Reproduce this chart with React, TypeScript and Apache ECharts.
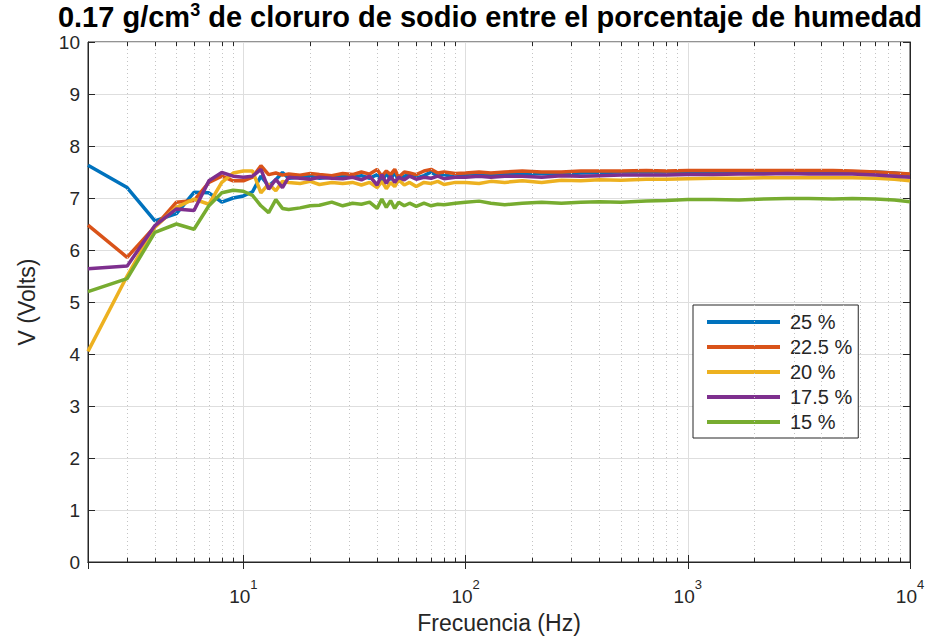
import React, { useEffect, useRef } from 'react';
import * as echarts from 'echarts';

const freqs = [2, 3, 4, 5, 6, 7, 8, 9, 10, 11, 12, 13, 14, 15, 16, 18, 20, 22, 25, 28, 31, 34, 37, 40, 42, 44, 46, 48, 50, 53, 56, 60, 65, 70, 75, 80, 90, 100, 115, 130, 150, 180, 220, 270, 330, 400, 500, 650, 800, 1000, 1300, 1700, 2200, 2800, 3500, 4500, 5500, 7000, 8500, 10000];

const v25 = [7.63, 7.2, 6.56, 6.7, 7.11, 7.1, 6.92, 7.0, 7.04, 7.12, 7.42, 7.23, 7.35, 7.49, 7.38, 7.4, 7.42, 7.38, 7.4, 7.42, 7.4, 7.43, 7.38, 7.45, 7.3, 7.48, 7.35, 7.5, 7.32, 7.42, 7.45, 7.38, 7.43, 7.5, 7.42, 7.45, 7.4, 7.45, 7.48, 7.44, 7.46, 7.45, 7.47, 7.45, 7.48, 7.49, 7.5, 7.5, 7.5, 7.5, 7.48, 7.5, 7.5, 7.52, 7.5, 7.52, 7.5, 7.5, 7.48, 7.45];
const v225 = [6.48, 5.86, 6.45, 6.92, 6.95, 7.3, 7.42, 7.33, 7.33, 7.4, 7.62, 7.45, 7.48, 7.44, 7.46, 7.44, 7.47, 7.45, 7.43, 7.47, 7.45, 7.5, 7.46, 7.55, 7.42, 7.52, 7.45, 7.55, 7.4, 7.5, 7.48, 7.45, 7.52, 7.55, 7.48, 7.5, 7.47, 7.48, 7.5, 7.48, 7.5, 7.52, 7.5, 7.5, 7.52, 7.52, 7.52, 7.53, 7.52, 7.53, 7.53, 7.53, 7.53, 7.53, 7.53, 7.53, 7.52, 7.5, 7.48, 7.46];
const v20 = [4.05, 5.5, 6.44, 6.82, 6.98, 6.88, 7.3, 7.48, 7.52, 7.52, 7.1, 7.27, 7.14, 7.32, 7.3, 7.28, 7.32, 7.26, 7.3, 7.28, 7.3, 7.25, 7.3, 7.2, 7.32, 7.18, 7.3, 7.22, 7.35, 7.25, 7.3, 7.22, 7.3, 7.28, 7.32, 7.26, 7.3, 7.3, 7.28, 7.32, 7.3, 7.33, 7.3, 7.34, 7.33, 7.35, 7.34, 7.36, 7.36, 7.37, 7.38, 7.38, 7.39, 7.39, 7.39, 7.39, 7.39, 7.38, 7.36, 7.33];
const v175 = [5.64, 5.69, 6.47, 6.79, 6.76, 7.33, 7.49, 7.42, 7.4, 7.42, 7.55, 7.17, 7.36, 7.2, 7.4, 7.38, 7.36, 7.4, 7.38, 7.37, 7.4, 7.35, 7.42, 7.25, 7.45, 7.28, 7.42, 7.3, 7.4, 7.35, 7.42, 7.36, 7.4, 7.38, 7.42, 7.37, 7.4, 7.4, 7.42, 7.4, 7.42, 7.42, 7.4, 7.43, 7.42, 7.43, 7.44, 7.44, 7.44, 7.45, 7.45, 7.46, 7.46, 7.47, 7.46, 7.46, 7.46, 7.44, 7.42, 7.4];
const v15 = [5.2, 5.45, 6.34, 6.5, 6.4, 6.85, 7.1, 7.15, 7.13, 7.05, 6.85, 6.72, 6.97, 6.8, 6.78, 6.81, 6.85, 6.86, 6.92, 6.85, 6.9, 6.88, 6.92, 6.8, 6.98, 6.82, 6.95, 6.8, 6.92, 6.85, 6.9, 6.84, 6.9, 6.85, 6.88, 6.87, 6.9, 6.92, 6.94, 6.9, 6.87, 6.9, 6.92, 6.9, 6.92, 6.93, 6.92, 6.94, 6.95, 6.97, 6.97, 6.96, 6.98, 6.99, 6.99, 6.98, 6.99, 6.98, 6.96, 6.93];

const seriesNames = ['25 %', '22.5 %', '20 %', '17.5 %', '15 %'];
const seriesValues = [v25, v225, v20, v175, v15];
const colors = ['#0072BD', '#D95319', '#EDB120', '#7E2F8E', '#77AC30'];

const minorX = [3, 4, 5, 6, 7, 8, 9, 20, 30, 40, 50, 60, 70, 80, 90, 200, 300, 400, 500, 600, 700, 800, 900, 2000, 3000, 4000, 5000, 6000, 7000, 8000, 9000];

const X_MIN = 2;
const X_MAX = 10000;
const Y_MIN = 0;
const Y_MAX = 10;

const FONT = 'Liberation Sans, Arial, Helvetica, sans-serif';
const TXT = '#262626';

export default function App() {
  const ref = useRef<HTMLDivElement>(null);
  useEffect(() => {
    if (!ref.current) return;
    const chart = echarts.init(ref.current, undefined, { renderer: 'svg' });

    const xLabel = (v: number) => {
      const l = Math.log10(v);
      const r = Math.round(l);
      if (Math.abs(l - r) < 1e-6 && r >= 1) return '{b|10}{s|' + r + '}';
      return '';
    };

    const dataSeries = seriesValues.map((vals, i) => ({
      name: seriesNames[i],
      type: 'line',
      data: freqs.map((f, j) => [f, vals[j]]),
      showSymbol: false,
      symbol: 'none',
      lineStyle: { color: colors[i], width: 3.5 },
      itemStyle: { color: colors[i] },
      color: colors[i],
      z: 3 + i,
      emphasis: { disabled: true },
      silent: true,
    }));

    const minorGrid = {
      type: 'line',
      data: [],
      z: 1,
      silent: true,
      markLine: {
        silent: true,
        symbol: ['none', 'none'],
        label: { show: false },
        lineStyle: { color: '#c4c4c4', type: [1, 3], width: 1 },
        emphasis: { disabled: true },
        data: minorX.map((x) => ({ xAxis: x })),
      },
    };

    const minorTicks = {
      type: 'line',
      data: [],
      z: 2,
      silent: true,
      markLine: {
        silent: true,
        symbol: ['none', 'none'],
        label: { show: false },
        lineStyle: { color: TXT, type: 'solid', width: 1 },
        emphasis: { disabled: true },
        data: [
          ...minorX.map((x) => [{ coord: [x, Y_MIN] }, { coord: [x, Y_MIN + 0.08] }]),
          ...minorX.map((x) => [{ coord: [x, Y_MAX] }, { coord: [x, Y_MAX - 0.08] }]),
        ],
      },
    };

    const option: any = {
      animation: false,
      backgroundColor: '#ffffff',
      title: {
        left: 490,
        textAlign: 'center',
        top: 1,
        padding: 0,
        text: '{a|0.17 g/cm}{s|3}{a| de cloruro de sodio entre el porcentaje de humedad}',
        textStyle: {
          rich: {
            a: { fontSize: 29, fontWeight: 'bold', fontFamily: FONT, color: '#000', verticalAlign: 'bottom', lineHeight: 30 },
            s: { fontSize: 18, fontWeight: 'bold', fontFamily: FONT, color: '#000', verticalAlign: 'top', lineHeight: 15 },
          },
        },
      },
      legend: {
        orient: 'vertical',
        left: 693,
        top: 305,
        padding: [7, 6, 6, 14],
        backgroundColor: '#ffffff',
        borderColor: '#262626',
        borderWidth: 1,
        borderRadius: 0,
        icon: 'rect',
        itemWidth: 73,
        itemHeight: 4,
        itemGap: 5,
        selectedMode: false,
        textStyle: { fontSize: 20, fontFamily: FONT, color: TXT, lineHeight: 20, padding: [0, 0, 0, 5] },
        data: seriesNames.map((n, i) => ({ name: n, itemStyle: { color: colors[i] } })),
      },
      grid: {
        left: 88,
        right: 23,
        top: 42,
        bottom: 74,
        show: true,
        borderColor: TXT,
        borderWidth: 1,
        backgroundColor: 'transparent',
      },
      xAxis: [
        {
          type: 'log',
          logBase: 10,
          min: X_MIN,
          max: X_MAX,
          name: 'Frecuencia (Hz)',
          nameLocation: 'middle',
          nameGap: 49,
          nameTextStyle: { fontSize: 23, fontFamily: FONT, color: TXT },
          axisLine: { show: true, lineStyle: { color: TXT } },
          axisTick: { show: true, inside: true, length: 7, lineStyle: { color: TXT } },
          minorTick: { show: false },
          axisLabel: {
            margin: 16,
            formatter: xLabel,
            rich: {
              b: { fontSize: 19, fontFamily: FONT, color: TXT, verticalAlign: 'bottom', lineHeight: 28 },
              s: { fontSize: 13, fontFamily: FONT, color: TXT, verticalAlign: 'top', lineHeight: 28 },
            },
          },
          splitLine: { show: true, lineStyle: { color: '#dedede', width: 1 } },
        },
        {
          type: 'log',
          logBase: 10,
          min: X_MIN,
          max: X_MAX,
          position: 'top',
          axisLine: { show: true, lineStyle: { color: TXT } },
          axisTick: { show: true, inside: true, length: 7, lineStyle: { color: TXT } },
          axisLabel: { show: false },
          splitLine: { show: false },
        },
      ],
      yAxis: [
        {
          type: 'value',
          min: Y_MIN,
          max: Y_MAX,
          interval: 1,
          name: 'V (Volts)',
          nameLocation: 'middle',
          nameGap: 50,
          nameTextStyle: { fontSize: 23, fontFamily: FONT, color: TXT },
          axisLine: { show: true, lineStyle: { color: TXT } },
          axisTick: { show: true, inside: true, length: 7, lineStyle: { color: TXT } },
          axisLabel: { fontSize: 19, fontFamily: FONT, color: TXT, margin: 8 },
          splitLine: { show: true, lineStyle: { color: '#dedede', width: 1 } },
        },
        {
          type: 'value',
          min: Y_MIN,
          max: Y_MAX,
          interval: 1,
          position: 'right',
          axisLine: { show: true, lineStyle: { color: TXT } },
          axisTick: { show: true, inside: true, length: 7, lineStyle: { color: TXT } },
          axisLabel: { show: false },
          splitLine: { show: false },
        },
      ],
      series: [minorGrid, minorTicks, ...dataSeries],
    };

    chart.setOption(option);
    return () => chart.dispose();
  }, []);

  return (
    <div
      ref={ref}
      style={{ position: 'fixed', left: 0, top: 0, width: 933, height: 639, background: '#fff' }}
    />
  );
}
